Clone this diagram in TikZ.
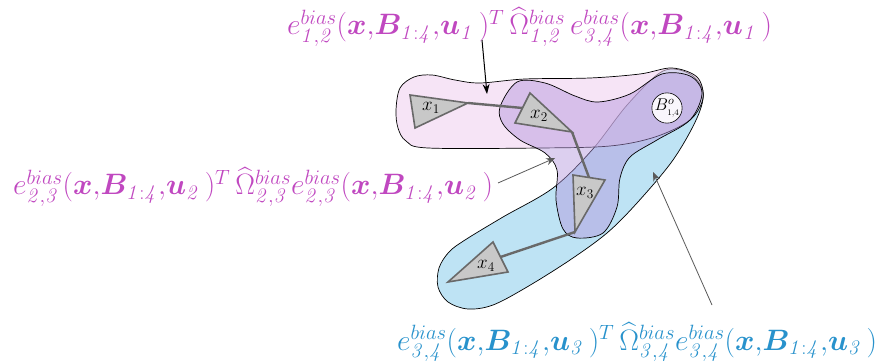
\RequirePackage{fix-cm}
\documentclass[tikz,border=0pt]{standalone}
\usepackage{amsmath}
\usepackage{bm}
\usetikzlibrary{arrows.meta,calc}
\definecolor{mag}{RGB}{192,72,192}
\definecolor{lblue}{RGB}{40,146,204}
\definecolor{pinkfill}{RGB}{238,205,238}
\definecolor{purfill}{RGB}{178,148,220}
\definecolor{bluefill}{RGB}{190,227,244}
\definecolor{trifill}{RGB}{200,200,200}
\definecolor{tridraw}{RGB}{105,105,105}
\tikzset{
  blobline/.style={draw=black, line width=0.7pt},
  tri/.style={fill=trifill, draw=tridraw, line width=1.6pt, line join=miter},
  chain/.style={draw=tridraw, line width=2.4pt},
  lbl/.style={inner sep=0pt, anchor=base west, font=\fontsize{29.5}{32}\selectfont},
  xlbl/.style={inner sep=0pt, font=\fontsize{19}{21}\selectfont},
  thinarrow/.style={draw=black!65, line width=0.8pt, -{Stealth[length=9pt,width=7pt]}},
  blackarrow/.style={draw=black, line width=1pt, -{Stealth[length=10pt,width=7pt]}}
}
\begin{document}
\begin{tikzpicture}[x=1pt,y=-1pt]
\useasboundingbox (0,0) rectangle (889,363);
% blue blob (3,4)
\path[blobline, fill=bluefill] plot[smooth cycle, tension=0.55] coordinates {
 (663,71) (690,74) (703,92) (697,118) (673,160) (637,203) (607,233) (570,260) (527,287)
 (493,305) (468,309) (448,302) (438,287) (439,268) (449,252) (465,240) (503,217)
 (553,188) (592,150) (628,104)};
% pink blob (1,2)
\path[blobline, fill=pinkfill, fill opacity=0.55] plot[smooth cycle, tension=0.55] coordinates {
 (396,110) (400,88) (414,77) (432,75) (455,80) (480,83) (525,79) (590,78) (640,74)
 (672,68) (697,77) (703,98) (690,120) (655,137) (610,146) (540,148) (428,148) (406,141) (398,128)};
% purple blob (2,3)
\path[blobline, fill=purfill, fill opacity=0.45] plot[smooth cycle, tension=0.55] coordinates {
 (500,107) (517,82) (545,83) (575,96) (598,102) (630,94) (662,74) (690,76) (702,93)
 (690,120) (657,140) (630,157) (620,178) (617,207) (603,233) (577,238) (563,229)
 (556,200) (557,170) (545,153) (520,140) (503,124)};
% circle B
\node[circle, draw=black, line width=0.6pt, fill=white!92!purfill, minimum size=26pt, inner sep=0pt,
  font=\fontsize{17}{18}\selectfont] (B) at (667,108) {$B^{o}_{\scriptscriptstyle 1,4}$};
% triangles
\coordinate (t1a) at (410,95); \coordinate (t1b) at (468,103); \coordinate (t1c) at (415,128);
\coordinate (t2a) at (530,93); \coordinate (t2b) at (572,132); \coordinate (t2c) at (515,123);
\coordinate (t3a) at (573,175); \coordinate (t3b) at (605,180); \coordinate (t3c) at (575,232);
\coordinate (t4a) at (493,242); \coordinate (t4b) at (508,272); \coordinate (t4c) at (448,282);
\draw[chain] (t1b) -- ($(t2a)!0.5!(t2c)$);
\draw[chain] (t2b) -- ($(t3a)!0.5!(t3b)$);
\draw[chain] (t3c) -- ($(t4a)!0.5!(t4b)$);
\path[tri] (t1a) -- (t1b) -- (t1c) -- cycle;
\path[tri] (t2a) -- (t2b) -- (t2c) -- cycle;
\path[tri] (t3a) -- (t3b) -- (t3c) -- cycle;
\path[tri] (t4a) -- (t4b) -- (t4c) -- cycle;
\node[xlbl] (x1) at (431,108) {$x_1$};
\node[xlbl] (x2) at (539,116) {$x_2$};
\node[xlbl] (x3) at (585,193) {$x_3$};
\node[xlbl] (x4) at (486,266) {$x_4$};
% labels
\node[lbl, text=mag] (L12) at (287,35) {$e^{bias}_{\mathit{1,2}}(\bm{x}{,}\bm{B}_{\mathit{1:4}}{,}\bm{u}_{\mathit{1}}\,)^{T}\,\widehat{\Omega}^{bias}_{\mathit{1,2}}\,e^{bias}_{\mathit{3,4}}(\bm{x}{,}\bm{B}_{\mathit{1:4}}{,}\bm{u}_{\mathit{1}}\,)$};
\node[lbl, text=mag] (L23) at (13,195) {$e^{bias}_{\mathit{2,3}}(\bm{x}{,}\bm{B}_{\mathit{1:4}}{,}\bm{u}_{\mathit{2}}\,)^{T}\,\widehat{\Omega}^{bias}_{\mathit{2,3}}e^{bias}_{\mathit{2,3}}(\bm{x}{,}\bm{B}_{\mathit{1:4}}{,}\bm{u}_{\mathit{2}}\,)$};
\node[lbl, text=lblue] (L34) at (397,350) {$e^{bias}_{\mathit{3,4}}(\bm{x}{,}\bm{B}_{\mathit{1:4}}{,}\bm{u}_{\mathit{3}}\,)^{T}\,\widehat{\Omega}^{bias}_{\mathit{3,4}}e^{bias}_{\mathit{3,4}}(\bm{x}{,}\bm{B}_{\mathit{1:4}}{,}\bm{u}_{\mathit{3}}\,)$};
% arrows
\coordinate (a1s) at (482,40); \coordinate (a1e) at (487,94);
\coordinate (a2s) at (498,183); \coordinate (a2e) at (555,158);
\coordinate (a3s) at (712,305); \coordinate (a3e) at (653,172);
\draw[blackarrow] (a1s) -- (a1e);
\draw[thinarrow] (a2s) -- (a2e);
\draw[thinarrow] (a3s) -- (a3e);
\end{tikzpicture}
\end{document}
